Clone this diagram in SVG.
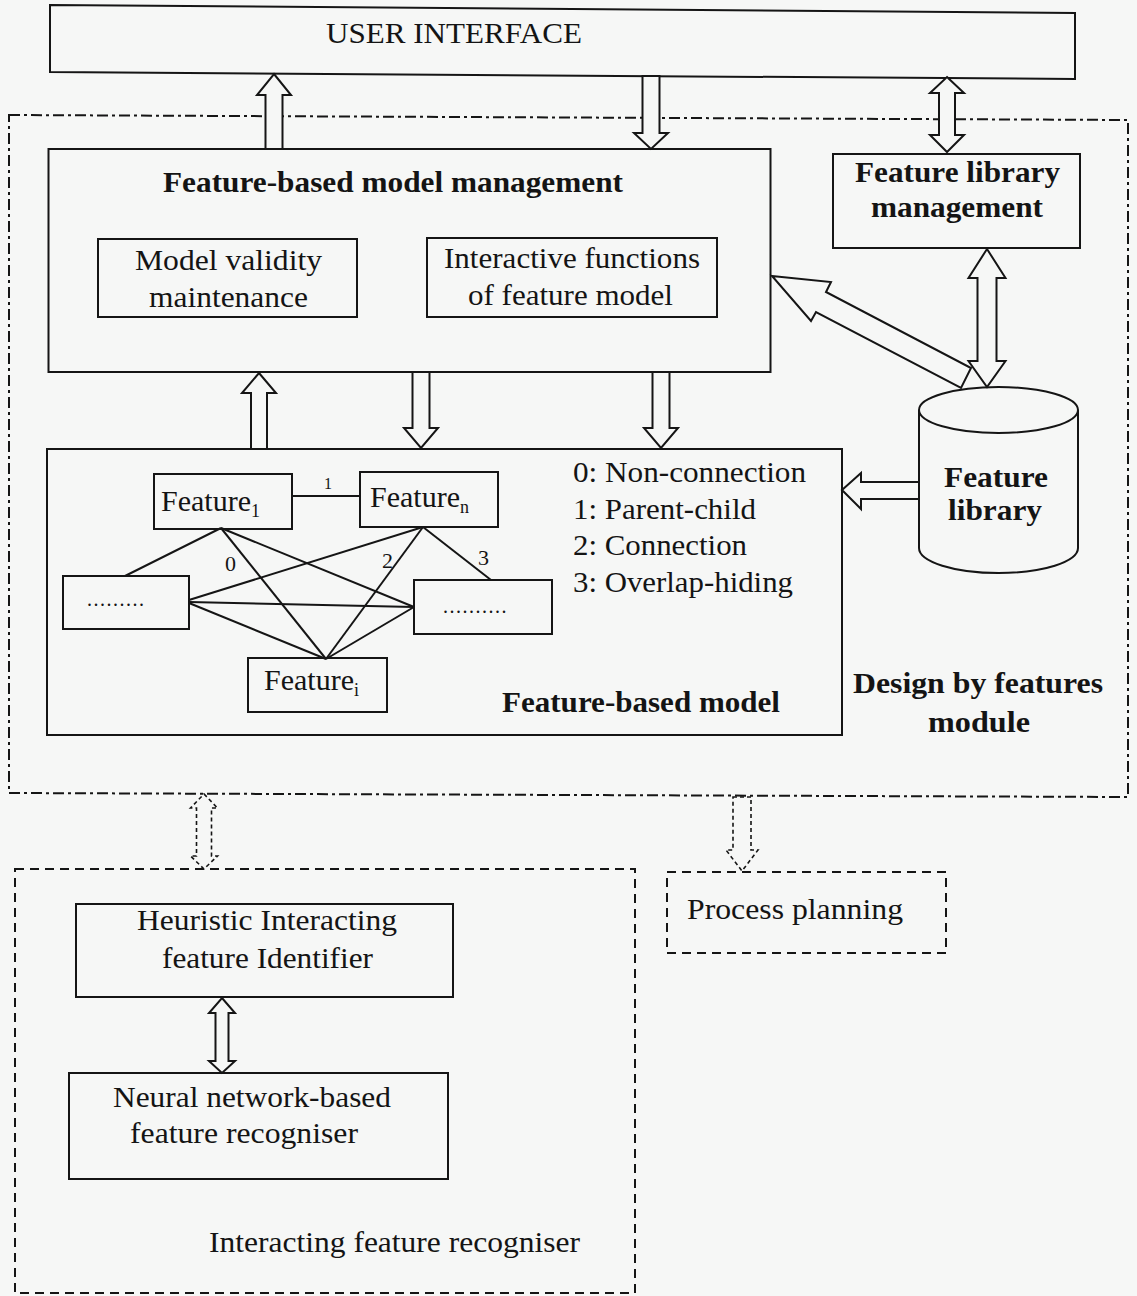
<svg xmlns="http://www.w3.org/2000/svg" width="1137" height="1296" viewBox="0 0 1137 1296">
<style>
.bg{fill:#f6f7f6}
.box{fill:none;stroke:#151515;stroke-width:2}
.arr{fill:#f6f7f6;stroke:#151515;stroke-width:2;stroke-linejoin:miter}
.darr{fill:#f6f7f6;stroke:#151515;stroke-width:1.6;stroke-dasharray:4 3}
.dd{fill:none;stroke:#151515;stroke-width:2;stroke-dasharray:11 4 3 4}
.dash{fill:none;stroke:#151515;stroke-width:2;stroke-dasharray:9 6}
.ln{stroke:#151515;stroke-width:2;fill:none}
text{font-family:"Liberation Serif","Times New Roman",serif;fill:#141414;font-size:30px}
.b{font-weight:bold}
.lbl{font-size:22px}
.dots{font-size:20px;letter-spacing:1.5px}
</style>
<rect class="bg" x="0" y="0" width="1137" height="1296"/>

<g id="module-border">
  <polygon class="dd" points="9,115 1128,120 1128,797 9,793"/>
  <text class="b" x="853" y="693" textLength="250" lengthAdjust="spacingAndGlyphs">Design by features</text>
  <text class="b" x="928" y="732" textLength="102" lengthAdjust="spacingAndGlyphs">module</text>
</g>

<g id="user-interface">
  <polygon class="box" points="50,5 1075,13 1075,79 50,72"/>
  <text x="326" y="43" textLength="256" lengthAdjust="spacingAndGlyphs">USER INTERFACE</text>
</g>

<g id="model-management">
  <rect class="box" x="48.5" y="149" width="722" height="223"/>
  <text class="b" x="163" y="192" textLength="460" lengthAdjust="spacingAndGlyphs">Feature-based model management</text>
</g>
<g id="model-validity">
  <rect class="box" x="98" y="239" width="259" height="78"/>
  <text x="135" y="270" textLength="187" lengthAdjust="spacingAndGlyphs">Model validity</text>
  <text x="149" y="307" textLength="159" lengthAdjust="spacingAndGlyphs">maintenance</text>
</g>
<g id="interactive-functions">
  <rect class="box" x="427" y="238" width="290" height="79"/>
  <text x="444" y="268" textLength="256" lengthAdjust="spacingAndGlyphs">Interactive functions</text>
  <text x="468" y="305" textLength="205" lengthAdjust="spacingAndGlyphs">of feature model</text>
</g>
<g id="feature-library-management">
  <rect class="box" x="833" y="154" width="247" height="94"/>
  <text class="b" x="855" y="182" textLength="205" lengthAdjust="spacingAndGlyphs">Feature library</text>
  <text class="b" x="871" y="217" textLength="172" lengthAdjust="spacingAndGlyphs">management</text>
</g>
<g id="feature-library">
  <path class="arr" d="M919,410 L919,548 A79.5,25 0 0 0 1078,548 L1078,410"/>
  <ellipse class="arr" cx="998.5" cy="410" rx="79.5" ry="23"/>
  <text class="b" x="944" y="487" textLength="104" lengthAdjust="spacingAndGlyphs">Feature</text>
  <text class="b" x="948" y="520" textLength="94" lengthAdjust="spacingAndGlyphs">library</text>
</g>

<g id="feature-based-model">
  <rect class="box" x="47" y="449" width="795" height="286"/>
  <text class="b" x="502" y="712" textLength="278" lengthAdjust="spacingAndGlyphs">Feature-based model</text>
  <text x="573" y="482" textLength="233" lengthAdjust="spacingAndGlyphs">0: Non-connection</text>
  <text x="573" y="519" textLength="183" lengthAdjust="spacingAndGlyphs">1: Parent-child</text>
  <text x="573" y="555" textLength="174" lengthAdjust="spacingAndGlyphs">2: Connection</text>
  <text x="573" y="592" textLength="220" lengthAdjust="spacingAndGlyphs">3: Overlap-hiding</text>
</g>

<g id="connectors">
  <!-- graph edges inside feature-based model -->
  <line class="ln" x1="292" y1="496" x2="360" y2="496"/>
  <line class="ln" x1="221" y1="528" x2="125" y2="576"/>
  <line class="ln" x1="221" y1="528" x2="326" y2="659"/>
  <line class="ln" x1="221" y1="528" x2="414" y2="607"/>
  <line class="ln" x1="423" y1="527" x2="189" y2="600"/>
  <line class="ln" x1="423" y1="527" x2="326" y2="659"/>
  <line class="ln" x1="423" y1="527" x2="491" y2="580"/>
  <line class="ln" x1="189" y1="602" x2="414" y2="607"/>
  <line class="ln" x1="189" y1="603" x2="326" y2="659"/>
  <line class="ln" x1="414" y1="607" x2="326" y2="659"/>
  <text x="324" y="489" style="font-size:16px">1</text>
  <text class="lbl" x="225" y="571">0</text>
  <text class="lbl" x="382" y="568">2</text>
  <text class="lbl" x="478" y="565">3</text>

  <!-- UI <-> management -->
  <polygon class="arr" points="274,74 291,95 282.5,95 282.5,149 265.5,149 265.5,95 257,95"/>
  <polygon class="arr" points="642.5,76 659.5,76 659.5,133 668,133 651,149 634,133 642.5,133"/>
  <polygon class="arr" points="947,77 964,93 955,93 955,135 964,135 947,152 930,135 939,135 939,93 930,93"/>
  <!-- library management <-> library -->
  <polygon class="arr" points="987,249 1005.5,278 996.5,278 996.5,361 1005.5,361 987,387 968.5,361 977.5,361 977.5,278 968.5,278"/>
  <!-- library -> management -->
  <polygon class="arr" points="772,276 831,282 826,292 971,368 961,388 816,312 811,321"/>
  <!-- library -> model -->
  <polygon class="arr" points="842,490 861,473 861,482 919,482 919,499 861,499 861,509"/>
  <!-- management <-> model -->
  <polygon class="arr" points="259,373 276,393 267,393 267,449 251,449 251,393 242,393"/>
  <polygon class="arr" points="412.5,372 429.5,372 429.5,428 438,428 421,448 404,428 412.5,428"/>
  <polygon class="arr" points="652.5,372 669.5,372 669.5,428 678,428 661,448 644,428 652.5,428"/>
  <!-- module -> lower modules (dashed) -->
  <polygon class="darr" points="204,794 217.5,808 211.5,808 211.5,856 217.5,856 204,869 190.5,856 196.5,856 196.5,808 190.5,808"/>
  <polygon class="darr" points="733,797 751,797 751,850 758,850 742,871 726,850 733,850"/>
  <!-- heuristic <-> neural -->
  <polygon class="arr" points="222,998 235,1013 228.5,1013 228.5,1061 235,1061 222,1073 209,1061 215.5,1061 215.5,1013 209,1013"/>
</g>

<g id="feature-1">
  <rect class="box" x="154" y="474" width="138" height="55"/>
  <text x="161" y="511">Feature<tspan style="font-size:18px" dy="6">1</tspan></text>
</g>
<g id="feature-n">
  <rect class="box" x="360" y="472" width="138" height="55"/>
  <text x="370" y="507">Feature<tspan style="font-size:18px" dy="6">n</tspan></text>
</g>
<g id="feature-i">
  <rect class="box" x="248" y="658" width="139" height="54"/>
  <text x="264" y="690">Feature<tspan style="font-size:18px" dy="6">i</tspan></text>
</g>
<g id="dots-left">
  <rect class="box" x="63" y="576" width="126" height="53" style="fill:#f6f7f6"/>
  <text class="dots" x="87" y="606">.........</text>
</g>
<g id="dots-right">
  <rect class="box" x="414" y="580" width="138" height="54" style="fill:#f6f7f6"/>
  <text class="dots" x="443" y="613">..........</text>
</g>

<g id="interacting-feature-recogniser">
  <rect class="dash" x="15" y="869" width="620" height="424"/>
  <text x="209" y="1252" textLength="371" lengthAdjust="spacingAndGlyphs">Interacting feature recogniser</text>
</g>
<g id="heuristic-identifier">
  <rect class="box" x="76" y="904" width="377" height="93"/>
  <text x="137" y="930" textLength="260" lengthAdjust="spacingAndGlyphs">Heuristic Interacting</text>
  <text x="162" y="968" textLength="211" lengthAdjust="spacingAndGlyphs">feature Identifier</text>
</g>
<g id="neural-recogniser">
  <rect class="box" x="69" y="1073" width="379" height="106"/>
  <text x="113" y="1107" textLength="278" lengthAdjust="spacingAndGlyphs">Neural network-based</text>
  <text x="130" y="1143" textLength="228" lengthAdjust="spacingAndGlyphs">feature recogniser</text>
</g>
<g id="process-planning">
  <rect class="dash" x="667" y="872" width="279" height="81"/>
  <text x="687" y="919" textLength="216" lengthAdjust="spacingAndGlyphs">Process planning</text>
</g>
</svg>
